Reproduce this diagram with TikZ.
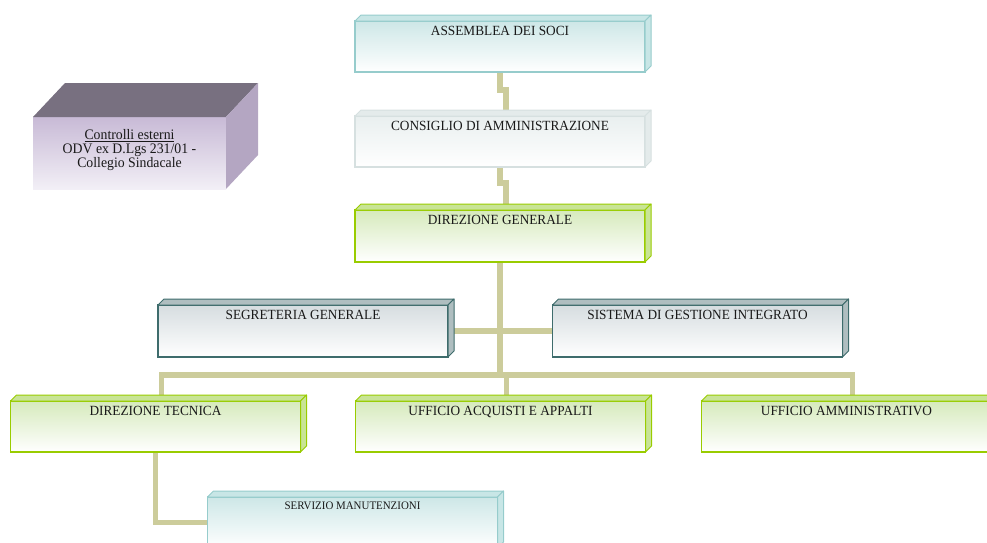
\documentclass[tikz,border=0pt]{standalone}
\usepackage{fontspec}
\setmainfont{Liberation Serif}[FakeStretch=0.95]
\usetikzlibrary{calc,backgrounds}
\definecolor{conn}{RGB}{204,204,155}
\definecolor{grnB}{RGB}{153,204,0}
\definecolor{grnF}{RGB}{214,234,188}
\definecolor{grnT}{RGB}{200,228,150}
\definecolor{grnS}{RGB}{165,205,70}
\definecolor{dtB}{RGB}{62,108,108}
\definecolor{dtF}{RGB}{214,221,224}
\definecolor{dtT}{RGB}{175,190,192}
\definecolor{dtS}{RGB}{110,140,140}
\definecolor{ltB}{RGB}{150,204,204}
\definecolor{ltF}{RGB}{205,231,231}
\definecolor{ltT}{RGB}{200,230,230}
\definecolor{ltS}{RGB}{165,210,210}
\definecolor{cgB}{RGB}{214,224,224}
\definecolor{cgF}{RGB}{233,239,239}
\definecolor{cgT}{RGB}{228,235,235}
\definecolor{cgS}{RGB}{218,228,228}
\definecolor{ctTop}{RGB}{120,112,128}
\definecolor{ctSide}{RGB}{180,166,194}
\definecolor{ctF}{RGB}{200,186,214}
\definecolor{ctF2}{RGB}{242,239,246}
\newcommand\bevelfaces[3]{%
  \filldraw[fill=#2,draw=#3,line width=1pt,line join=round]
    (#1.north west) -- ++(6,-6) -- ($(#1.north east)+(6,-6)$) -- (#1.north east) -- cycle;
  \filldraw[fill=#2,draw=#3,line width=1pt,line join=round]
    (#1.north east) -- ++(6,-6) -- ($(#1.south east)+(6,-6)$) -- (#1.south east) -- cycle;}
\tikzset{
  orgbox/.style={rectangle,inner sep=0pt,outer sep=0pt,minimum width=290pt,minimum height=51pt,line width=1.6pt},
  grnbox/.style={orgbox,draw=grnB,top color=grnF,bottom color=white},
  dkbox/.style={orgbox,draw=dtB,top color=dtF,bottom color=white},
  ltbox/.style={orgbox,draw=ltB,top color=ltF,bottom color=white},
  cgbox/.style={orgbox,draw=cgB,top color=cgF,bottom color=white},
  lbl/.style={anchor=north,inner sep=0pt,yshift=-5pt,font=\fontsize{14}{16}\selectfont,text=black!90},
  smlbl/.style={lbl,font=\fontsize{11.5}{13}\selectfont},
  link/.style={draw=conn,line width=5.5pt}
}
\begin{document}
\begin{tikzpicture}[x=1pt,y=-1pt]
\useasboundingbox (0,0) rectangle (987,542);
% boxes
\node[ltbox,label={[lbl]north:ASSEMBLEA DEI SOCI}] (ass) at (500,46.5) {};
\node[cgbox,label={[lbl]north:CONSIGLIO DI AMMINISTRAZIONE}] (cons) at (500,141.5) {};
\node[grnbox,minimum height=52pt,label={[lbl]north:DIREZIONE GENERALE}] (dg) at (500,236) {};
\node[dkbox,minimum height=52pt,label={[lbl]north:SEGRETERIA GENERALE}] (seg) at (303,331) {};
\node[dkbox,minimum height=52pt,label={[lbl]north:SISTEMA DI GESTIONE INTEGRATO}] (sis) at (697.5,331) {};
\node[grnbox,label={[lbl]north:DIREZIONE TECNICA}] (dt) at (155.5,426.5) {};
\node[grnbox,label={[lbl]north:UFFICIO ACQUISTI E APPALTI}] (acq) at (500.5,426.5) {};
\node[grnbox,label={[lbl]north:UFFICIO AMMINISTRATIVO}] (amm) at (846.5,426.5) {};
\node[ltbox,label={[smlbl]north:SERVIZIO MANUTENZIONI}] (srv) at (352.5,522.5) {};
% bevels
\bevelfaces{ass}{ltT}{ltB}
\bevelfaces{cons}{cgT}{cgB}
\bevelfaces{dg}{grnT}{grnB}
\bevelfaces{seg}{dtT}{dtB}
\bevelfaces{sis}{dtT}{dtB}
\bevelfaces{dt}{grnT}{grnB}
\bevelfaces{acq}{grnT}{grnB}
\bevelfaces{amm}{grnT}{grnB}
\bevelfaces{srv}{ltT}{ltB}
% external controls block
\node[rectangle,inner sep=0pt,outer sep=0pt,minimum width=193pt,minimum height=72pt,
      top color=ctF,bottom color=ctF2] (ctrl) at (129.5,153) {};
\fill[ctTop] (ctrl.north west) -- ++(32,-34) -- ($(ctrl.north east)+(32,-34)$) -- (ctrl.north east) -- cycle;
\fill[ctSide] (ctrl.north east) -- ++(32,-34) -- ($(ctrl.south east)+(32,-34)$) -- (ctrl.south east) -- cycle;
\node[align=center,inner sep=0pt,font=\fontsize{14.5}{13.6}\selectfont,text=black!90] (ctrltext) at ($(ctrl.center)+(0,-3)$)
  {\underline{Controlli esterni}\\ODV ex D.Lgs 231/01 -\\Collegio Sindacale};
% connectors
\begin{scope}[on background layer]
\draw[link] (ass.south) -- ++(0,18) -| ($(cons.north)+(6,0)$);
\draw[link] (cons.south) -- ++(0,16) -| ($(dg.north)+(6,0)$);
\draw[link] (dg.south) -- ($(dg.south)+(0,113)$) -| ($(acq.north)+(6,0)$);
\draw[link] (seg.east) -- (sis.west);
\draw[link] ($(dt.north)+(6,0)$) -- ++(0,-26) -| ($(amm.north)+(6,0)$);
\draw[link] (dt.south) |- (srv.west);
\end{scope}
\end{tikzpicture}
\end{document}
